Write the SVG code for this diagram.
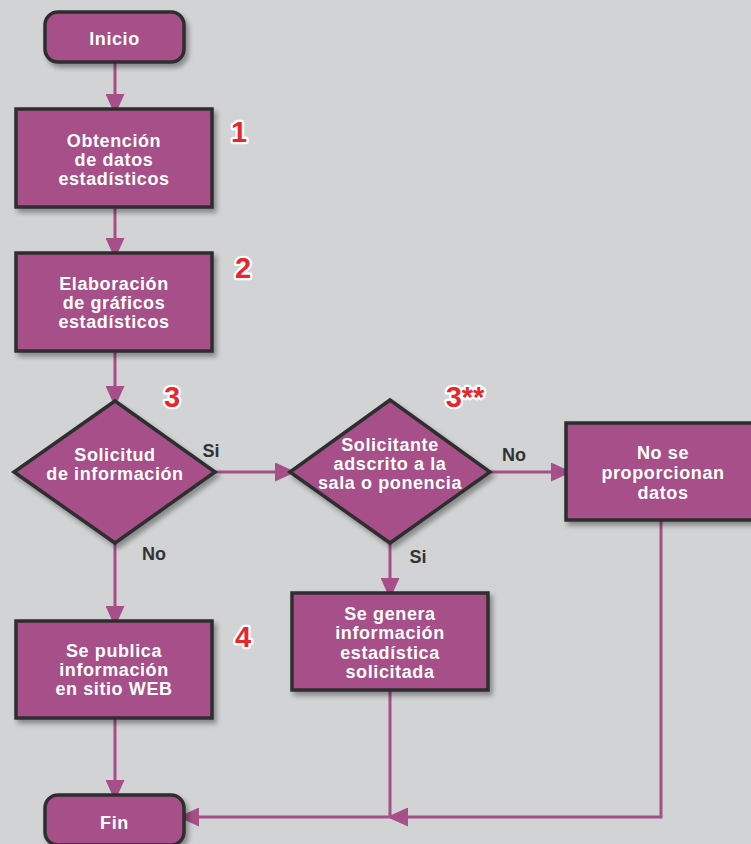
<svg xmlns="http://www.w3.org/2000/svg" width="751" height="844" viewBox="0 0 751 844">
  <defs>
    <filter id="shadow" x="-10%" y="-10%" width="130%" height="130%">
      <feDropShadow dx="3" dy="4" stdDeviation="2.5" flood-color="#000" flood-opacity="0.35"/>
    </filter>
    <marker id="arrow" markerUnits="userSpaceOnUse" markerWidth="21" markerHeight="19" refX="15" refY="9.5" orient="auto">
      <path d="M0,0 L21,9.5 L0,19 z" fill="#a64f88"/>
    </marker>
  </defs>
  <style>
    .node { fill: #a64f88; stroke: #2e2e2e; stroke-width: 3.5; filter: url(#shadow); }
    .label { fill: #ffffff; font-family: "Liberation Sans", Arial, sans-serif; font-weight: bold; font-size: 18px; letter-spacing: 0.6px; text-anchor: middle; }
    .edge { fill: none; stroke: #a64f88; stroke-width: 3; }
    .tag { fill: #333333; font-family: "Liberation Sans", Arial, sans-serif; font-weight: bold; font-size: 18px; text-anchor: middle; }
    .num { fill: #e8262c; stroke: #ffffff; stroke-width: 4.5; paint-order: stroke; stroke-linejoin: round; font-family: "Liberation Sans", Arial, sans-serif; font-weight: bold; font-size: 29px; text-anchor: middle; }
  </style>

  <rect width="751" height="844" fill="#d1d3d4"/>

  <!-- connectors -->
  <g id="connectors">
    <line class="edge" x1="115" y1="62" x2="115" y2="109" marker-end="url(#arrow)"/>
    <line class="edge" x1="115" y1="207" x2="115" y2="253" marker-end="url(#arrow)"/>
    <line class="edge" x1="115" y1="351" x2="115" y2="401" marker-end="url(#arrow)"/>
    <line class="edge" x1="213" y1="472" x2="290" y2="472" marker-end="url(#arrow)"/>
    <line class="edge" x1="490" y1="472" x2="566" y2="472" marker-end="url(#arrow)"/>
    <line class="edge" x1="115" y1="543" x2="115" y2="621" marker-end="url(#arrow)"/>
    <line class="edge" x1="390" y1="543" x2="390" y2="593" marker-end="url(#arrow)"/>
    <line class="edge" x1="115" y1="718" x2="115" y2="795" marker-end="url(#arrow)"/>
    <polyline class="edge" points="661,520 661,817 393,817" marker-end="url(#arrow)"/>
    <polyline class="edge" points="390,690 390,817 184,817" marker-end="url(#arrow)"/>
    <text class="tag" x="211" y="457">Si</text>
    <text class="tag" x="154" y="560">No</text>
    <text class="tag" x="514" y="461">No</text>
    <text class="tag" x="418" y="563">Si</text>
  </g>

  <g id="inicio">
    <rect class="node" x="45" y="12" width="139" height="50" rx="13"/>
    <text class="label" x="114.5" y="45">Inicio</text>
  </g>

  <g id="obtencion">
    <rect class="node" x="16" y="109" width="196" height="98"/>
    <text class="label" x="114" y="147">Obtención</text>
    <text class="label" x="114" y="166">de datos</text>
    <text class="label" x="114" y="185">estadísticos</text>
    <text class="num" x="239" y="142">1</text>
  </g>

  <g id="elaboracion">
    <rect class="node" x="16" y="253" width="196" height="98"/>
    <text class="label" x="114" y="290">Elaboración</text>
    <text class="label" x="114" y="309">de gráficos</text>
    <text class="label" x="114" y="328">estadísticos</text>
    <text class="num" x="243" y="278">2</text>
  </g>

  <g id="solicitud">
    <polygon class="node" points="115,401 215,472 115,543 14,472"/>
    <text class="label" x="115" y="461">Solicitud</text>
    <text class="label" x="115" y="480">de información</text>
    <text class="num" x="172" y="407">3</text>
  </g>

  <g id="solicitante">
    <polygon class="node" points="390,400 490,472 390,543 290,472"/>
    <text class="label" x="390" y="451">Solicitante</text>
    <text class="label" x="390" y="470">adscrito a la</text>
    <text class="label" x="390" y="489">sala o ponencia</text>
    <text class="num" x="465" y="407">3**</text>
  </g>

  <g id="no-datos">
    <rect class="node" x="566" y="423" width="194" height="97"/>
    <text class="label" x="663" y="459">No se</text>
    <text class="label" x="663" y="479">proporcionan</text>
    <text class="label" x="663" y="499">datos</text>
  </g>

  <g id="publica">
    <rect class="node" x="16" y="621" width="196" height="97"/>
    <text class="label" x="114" y="657">Se publica</text>
    <text class="label" x="114" y="676">información</text>
    <text class="label" x="114" y="695">en sitio WEB</text>
    <text class="num" x="243" y="647">4</text>
  </g>

  <g id="genera">
    <rect class="node" x="292" y="593" width="196" height="97"/>
    <text class="label" x="390" y="620">Se genera</text>
    <text class="label" x="390" y="639">información</text>
    <text class="label" x="390" y="659">estadística</text>
    <text class="label" x="390" y="678">solicitada</text>
  </g>

  <g id="fin">
    <rect class="node" x="45" y="795" width="139" height="50" rx="13"/>
    <text class="label" x="114.5" y="829">Fin</text>
  </g>
</svg>
